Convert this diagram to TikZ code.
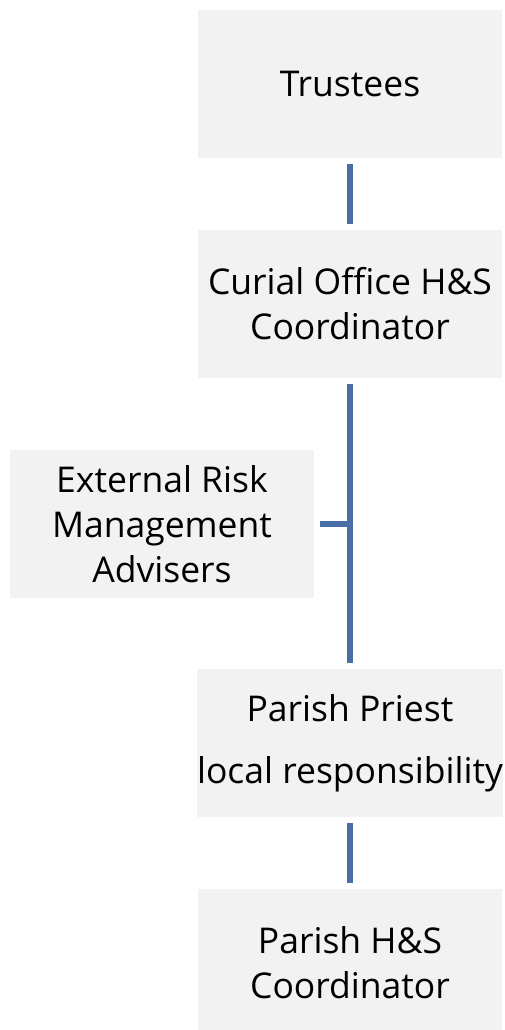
\documentclass[tikz,border=0pt]{standalone}
\usepackage{fontspec}
\setmainfont{Open Sans}
\usetikzlibrary{calc}
\definecolor{boxfill}{HTML}{F2F2F2}
\definecolor{linkblue}{HTML}{4A6EA6}
\begin{document}
\begin{tikzpicture}[x=1pt,y=1pt,
  orgbox/.style={fill=boxfill, draw=none, minimum width=304pt, minimum height=148pt,
    inner sep=0pt, align=center, font=\fontsize{35.5}{45}\selectfont},
  link/.style={draw=linkblue, line width=5.3pt, shorten <=6pt, shorten >=6pt}]
  \useasboundingbox (0,0) rectangle (504,-1030);
  % boxes
  \node[orgbox] (trustees) at (350,-84) {Trustees};
  \node[orgbox] (curial) at (350,-304) {Curial Office H\&S\\Coordinator};
  \node[orgbox] (external) at (162,-524) {External Risk\\Management\\Advisers};
  \node[orgbox] (priest) at (350,-743) {Parish Priest\\[17pt]local responsibility};
  \node[orgbox] (parishhs) at (350,-963) {Parish H\&S\\Coordinator};
  % connectors
  \draw[link] (trustees) -- (curial);
  \draw[link] (curial) -- (priest);
  \draw[link, shorten >=0pt] (external.east) -- (external.east -| curial.south);
  \draw[link] (priest) -- (parishhs);
\end{tikzpicture}
\end{document}
